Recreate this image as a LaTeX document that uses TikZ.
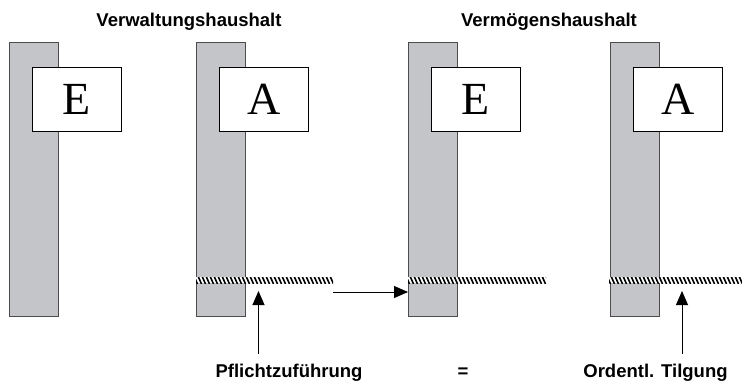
\documentclass[tikz,border=0pt]{standalone}
\usepackage{fontspec}
\setmainfont{Liberation Sans}
\newfontfamily\serifletters{Liberation Serif}
\usetikzlibrary{arrows.meta}
\definecolor{barfill}{RGB}{196,197,201}
\newcommand{\hatchseg}[3]{%
  \begin{scope}
    \clip (#1,#3-3) rectangle (#2,#3+3);
    \fill[white] (#1,#3-3) rectangle (#2,#3+3);
    \foreach \xx in {-6,-2,...,150} {
      \draw[line width=1.6pt] ({#1+\xx},#3-4) -- ({#1+\xx+3.5},#3+4);
    }
  \end{scope}}
\begin{document}
\begin{tikzpicture}[x=1pt,y=-1pt,
  bar/.style={fill=barfill,draw=black!70,line width=0.8pt,minimum width=49pt,minimum height=274pt,anchor=north west,inner sep=0pt},
  letterbox/.style={draw=black,fill=white,line width=0.9pt,minimum width=89pt,minimum height=64pt,inner sep=0pt,anchor=north west,font=\serifletters\fontsize{46}{46}\selectfont},
  txt/.style={font=\bfseries\fontsize{18.5}{20}\selectfont,anchor=base,inner sep=0pt,text=black},
  arr/.style={line width=0.9pt,-{Triangle[length=14pt,width=12pt]}}]
\useasboundingbox (0,0) rectangle (742,381);
% bars
\node[bar] (b1) at (9,42) {};
\node[bar] (b2) at (196,42) {};
\node[bar] (b3) at (408,42) {};
\node[bar] (b4) at (610,42) {};
% boxes
\node[letterbox] (e1) at (32,67) {E};
\node[letterbox] (a1) at (219,67) {A};
\node[letterbox] (e2) at (431,67) {E};
\node[letterbox] (a2) at (633,67) {A};
% hatched lines
\hatchseg{196}{333}{280}
\hatchseg{408}{546}{280}
\hatchseg{609}{742}{280}
% labels
\node[txt] (vw) at (189,26.5) {Verwaltungshaushalt};
\node[txt] (vm) at (549,26.5) {Vermögenshaushalt};
\node[txt] (pf) at (289,377) {Pflichtzuführung};
\node[txt] (eq) at (463,377) {=};
\node[txt] (ot) at (655.5,377) {Ordentl. Tilgung};
% arrows
\coordinate (hs) at (333,292);
\draw[arr] (hs) -- (b3.west |- hs);
\coordinate (p1) at (258.5,354);
\coordinate (p1t) at (258.5,291);
\draw[arr] (p1) -- (p1t);
\coordinate (o1) at (682,354);
\coordinate (o1t) at (682,291);
\draw[arr] (o1) -- (o1t);
\end{tikzpicture}
\end{document}
